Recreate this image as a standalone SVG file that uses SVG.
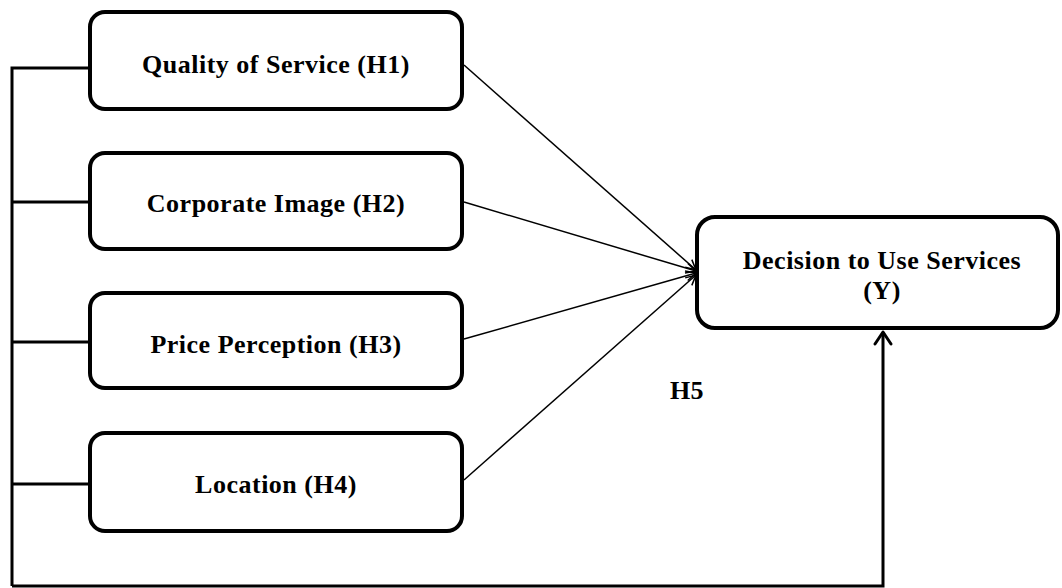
<svg xmlns="http://www.w3.org/2000/svg" width="1062" height="588" viewBox="0 0 1062 588">
<style>
.box{fill:#fff;stroke:#000;stroke-width:4}
.t{font-family:"Liberation Serif","Times New Roman",serif;font-weight:bold;font-size:26px;letter-spacing:0.5px;text-anchor:middle;fill:#000}
.thick{fill:none;stroke:#000;stroke-width:3}
.thin{fill:none;stroke:#000;stroke-width:1.5}
</style>
<defs>
<marker id="ah" viewBox="0 0 12 12" refX="11" refY="6" markerWidth="12" markerHeight="12" markerUnits="userSpaceOnUse" orient="auto">
<path d="M1,1 L11,6 L1,11" fill="none" stroke="#000" stroke-width="1.5"/>
</marker>
<marker id="ah2" viewBox="0 0 20 20" refX="18" refY="10" markerWidth="20" markerHeight="20" markerUnits="userSpaceOnUse" orient="auto">
<path d="M6,2 L18,10 L6,18" fill="none" stroke="#000" stroke-width="3" stroke-linecap="round" stroke-linejoin="round"/>
</marker>
</defs>
<g id="connectors">
<path class="thick" d="M12,586 L12,68 L90,68"/>
<path class="thick" d="M12,202 L90,202"/>
<path class="thick" d="M12,342 L90,342"/>
<path class="thick" d="M12,484 L90,484"/>
<path class="thick" d="M12,586 L883,586 L883,332" marker-end="url(#ah2)"/>
<line class="thin" x1="464" y1="65" x2="696" y2="270" marker-end="url(#ah)"/>
<line class="thin" x1="464" y1="202" x2="696" y2="271" marker-end="url(#ah)"/>
<line class="thin" x1="464" y1="339" x2="696" y2="273" marker-end="url(#ah)"/>
<line class="thin" x1="464" y1="480" x2="696" y2="275" marker-end="url(#ah)"/>
</g>
<g id="n1"><rect class="box" x="90" y="12" width="372" height="97" rx="15"/><text class="t" x="276" y="73">Quality of Service (H1)</text></g>
<g id="n2"><rect class="box" x="90" y="153" width="372" height="96" rx="15"/><text class="t" x="276" y="212">Corporate Image (H2)</text></g>
<g id="n3"><rect class="box" x="90" y="293" width="372" height="95" rx="15"/><text class="t" x="276" y="353">Price Perception (H3)</text></g>
<g id="n4"><rect class="box" x="90" y="433" width="372" height="98" rx="15"/><text class="t" x="276" y="493">Location (H4)</text></g>
<g id="ny"><rect class="box" x="697" y="217" width="361" height="111" rx="18"/><text class="t" x="882" y="269">Decision to Use Services</text><text class="t" x="882" y="299">(Y)</text></g>
<text id="h5" class="t" x="687" y="399">H5</text>
</svg>
